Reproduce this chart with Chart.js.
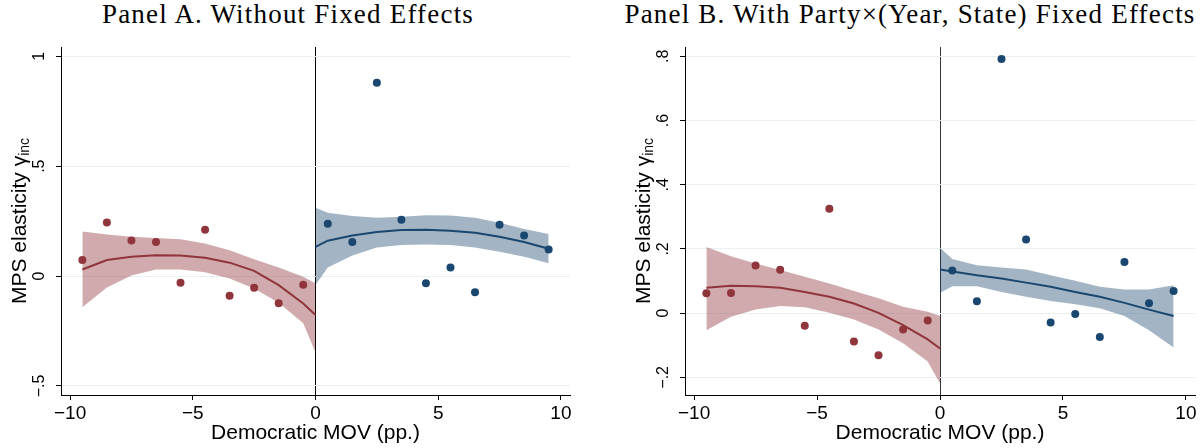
<!DOCTYPE html>
<html lang="en">
<head>
    <meta charset="UTF-8" />
    <title>MPS elasticity and Democratic MOV</title>
    <script src="https://cdn.jsdelivr.net/npm/chart.js"></script>
    <style>
        body { margin: 0; background: #fff; width: 1204px; height: 448px; position: relative; overflow: hidden; }
        .panel { position: absolute; top: 0; }
        .title {
            position: absolute; top: 1px; transform: translateX(-50%);
            font-family: "Liberation Serif", serif; font-size: 27px; line-height: 27px;
            letter-spacing: 1.2px; white-space: nowrap; color: #000;
        }
    </style>
</head>
<body>
    <div class="title" style="left:288px">Panel A. Without Fixed Effects</div>
    <div class="title" style="left:910px">Panel B. With Party×(Year, State) Fixed Effects</div>
    <canvas id="panelA" class="panel" style="left:0" width="600" height="448"></canvas>
    <canvas id="panelB" class="panel" style="left:600px" width="604" height="448"></canvas>

    <script>
    // bins of the running variable (bin centres) and the x positions of the fitted curves
    const binsLeft  = [-9.5, -8.5, -7.5, -6.5, -5.5, -4.5, -3.5, -2.5, -1.5, -0.5];
    const binsRight = [0.5, 1.5, 2.5, 3.5, 4.5, 5.5, 6.5, 7.5, 8.5, 9.5];
    const fitXLeft  = [-9.5, -8.5, -7.5, -6.5, -5.5, -4.5, -3.5, -2.5, -1.5, -0.5, 0];
    const fitXRight = [0, 0.5, 1.5, 2.5, 3.5, 4.5, 5.5, 6.5, 7.5, 8.5, 9.5];
    const xTicks = [-10, -5, 0, 5, 10];

    // Panel A: without fixed effects
    const aRepPoints = [0.073, 0.244, 0.162, 0.155, -0.030, 0.211, -0.089, -0.053, -0.124, -0.039];
    const aRepFit    = [0.030, 0.073, 0.088, 0.095, 0.094, 0.083, 0.061, 0.024, -0.041, -0.125, -0.177];
    const aRepHi     = [0.203, 0.189, 0.179, 0.173, 0.167, 0.148, 0.118, 0.076, 0.039, -0.003, -0.033];
    const aRepLo     = [-0.142, -0.052, 0.003, 0.030, 0.030, 0.017, -0.011, -0.056, -0.121, -0.215, -0.348];
    const aDemPoints = [0.238, 0.155, 0.879, 0.256, -0.033, 0.039, -0.074, 0.233, 0.185, 0.121];
    const aDemFit    = [0.133, 0.161, 0.185, 0.200, 0.209, 0.211, 0.206, 0.197, 0.179, 0.155, 0.124];
    const aDemHi     = [0.311, 0.288, 0.273, 0.265, 0.270, 0.277, 0.276, 0.265, 0.242, 0.214, 0.191];
    const aDemLo     = [-0.041, 0.039, 0.094, 0.130, 0.141, 0.144, 0.141, 0.130, 0.111, 0.088, 0.058];
    const aYTicks = [-0.5, 0, 0.5, 1];
    const aYLabels = ['\u2212.5', '0', '.5', '1'];

    // Panel B: with party x (year, state) fixed effects
    const bRepPoints = [0.062, 0.063, 0.148, 0.135, -0.039, 0.325, -0.088, -0.131, -0.051, -0.023];
    const bRepFit    = [0.079, 0.085, 0.084, 0.079, 0.066, 0.051, 0.030, 0.001, -0.037, -0.082, -0.110];
    const bRepHi     = [0.206, 0.177, 0.155, 0.134, 0.113, 0.092, 0.069, 0.046, 0.020, 0.004, -0.009];
    const bRepLo     = [-0.053, -0.011, 0.011, 0.022, 0.018, 0.001, -0.020, -0.051, -0.094, -0.151, -0.219];
    const bDemPoints = [0.133, 0.037, 0.792, 0.229, -0.029, -0.003, -0.074, 0.159, 0.031, 0.069];
    const bDemFit    = [0.136, 0.130, 0.118, 0.108, 0.095, 0.082, 0.066, 0.051, 0.032, 0.011, -0.009];
    const bDemHi     = [0.204, 0.169, 0.149, 0.142, 0.136, 0.118, 0.101, 0.082, 0.074, 0.074, 0.087];
    const bDemLo     = [0.063, 0.084, 0.084, 0.066, 0.051, 0.038, 0.028, 0.015, -0.009, -0.053, -0.107];
    const bYTicks = [-0.2, 0, 0.2, 0.4, 0.6, 0.8];
    const bYLabels = ['\u2212.2', '0', '.2', '.4', '.6', '.8'];

    const maroon = '#90353b';
    const navy = '#1a476f';
    const maroonBand = 'rgba(144, 53, 59, 0.42)';
    const navyBand = 'rgba(26, 71, 111, 0.40)';
    const sans = '"Liberation Sans", Arial, sans-serif';

    const pts = (xs, ys) => xs.map((x, i) => ({ x: x, y: ys[i] }));

    function sideDatasets(bins, fitX, points, fit, hi, lo, col, band) {
        return [
            { data: pts(bins, points), showLine: false, pointRadius: 4, pointHoverRadius: 4,
              pointBackgroundColor: col, pointBorderWidth: 0, order: 0 },
            { data: pts(fitX, fit), borderColor: col, borderWidth: 2, pointRadius: 0, fill: false, order: 1 },
            { data: pts(fitX, hi), borderWidth: 0, pointRadius: 0, backgroundColor: band, fill: '+1', order: 2 },
            { data: pts(fitX, lo), borderWidth: 0, pointRadius: 0, fill: false, order: 2 }
        ];
    }

    // y tick labels (rotated, Stata style) and the y title with subscript
    const yTextPlugin = {
        id: 'yText',
        afterDraw(chart, args, opts) {
            const ctx = chart.ctx;
            const area = chart.chartArea;
            const yScale = chart.scales.y;
            ctx.save();
            ctx.fillStyle = '#000';
            ctx.textAlign = 'center';
            ctx.textBaseline = 'middle';
            ctx.font = '16px ' + sans;
            opts.ticks.forEach((v, i) => {
                ctx.save();
                ctx.translate(area.left - 21, yScale.getPixelForValue(v));
                ctx.rotate(-Math.PI / 2);
                ctx.fillText(opts.labels[i], 0, 0);
                ctx.restore();
            });
            // axis title
            const main = 'MPS elasticity \u03b3';
            const big = '21px ' + sans;
            const small = '14px ' + sans;
            ctx.font = big;
            const mainW = ctx.measureText(main).width;
            ctx.font = small;
            const subW = ctx.measureText('inc').width;
            ctx.translate(area.left - 41, (area.top + area.bottom) / 2);
            ctx.rotate(-Math.PI / 2);
            ctx.textAlign = 'left';
            ctx.font = big;
            ctx.fillText(main, -(mainW + subW) / 2, 0);
            ctx.font = small;
            ctx.fillText('inc', -(mainW + subW) / 2 + mainW, 5);
            ctx.restore();
        }
    };

    function makePanel(id, datasets, yMin, yMax, yTicks, yLabels, axisWidth, rightPad, zeroColor) {
        return new Chart(document.getElementById(id), {
            type: 'line',
            data: { datasets: datasets },
            plugins: [yTextPlugin],
            options: {
                responsive: false,
                animation: false,
                devicePixelRatio: 1,
                layout: { padding: { top: 47, right: rightPad, bottom: 0, left: 0 } },
                plugins: {
                    legend: { display: false },
                    tooltip: { enabled: false },
                    yText: { ticks: yTicks, labels: yLabels }
                },
                scales: {
                    x: {
                        type: 'linear',
                        min: -10.37,
                        max: 10.37,
                        afterBuildTicks: s => { s.ticks = xTicks.map(v => ({ value: v })); },
                        afterFit: s => { s.height = 53; },
                        border: { display: true, color: '#000', width: 1 },
                        grid: {
                            drawOnChartArea: true,
                            color: c => (c.tick && c.tick.value === 0) ? zeroColor : 'rgba(0,0,0,0)',
                            lineWidth: 1,
                            tickColor: '#000',
                            tickLength: 5
                        },
                        ticks: {
                            color: '#000',
                            font: { family: sans, size: 19 },
                            padding: 2,
                            maxRotation: 0,
                            callback: v => String(v).replace('-', '\u2212')
                        },
                        title: {
                            display: true,
                            text: 'Democratic MOV (pp.)',
                            color: '#000',
                            font: { family: sans, size: 21 },
                            padding: { top: 0, bottom: 2 }
                        }
                    },
                    y: {
                        min: yMin,
                        max: yMax,
                        afterBuildTicks: s => { s.ticks = yTicks.map(v => ({ value: v })); },
                        afterFit: s => { s.width = axisWidth; },
                        border: { display: true, color: '#000', width: 1 },
                        grid: {
                            color: '#e8f0f1',
                            lineWidth: 1,
                            tickColor: '#000',
                            tickLength: 5
                        },
                        ticks: { display: false }
                    }
                }
            }
        });
    }

    makePanel('panelA',
        sideDatasets(binsLeft, fitXLeft, aRepPoints, aRepFit, aRepHi, aRepLo, maroon, maroonBand)
            .concat(sideDatasets(binsRight, fitXRight, aDemPoints, aDemFit, aDemHi, aDemLo, navy, navyBand)),
        -0.541, 1.042, aYTicks, aYLabels, 61, 30, '#000');

    makePanel('panelB',
        sideDatasets(binsLeft, fitXLeft, bRepPoints, bRepFit, bRepHi, bRepLo, maroon, maroonBand)
            .concat(sideDatasets(binsRight, fitXRight, bDemPoints, bDemFit, bDemHi, bDemLo, navy, navyBand)),
        -0.255, 0.829, bYTicks, bYLabels, 85, 9, '#333');
    </script>
</body>
</html>
